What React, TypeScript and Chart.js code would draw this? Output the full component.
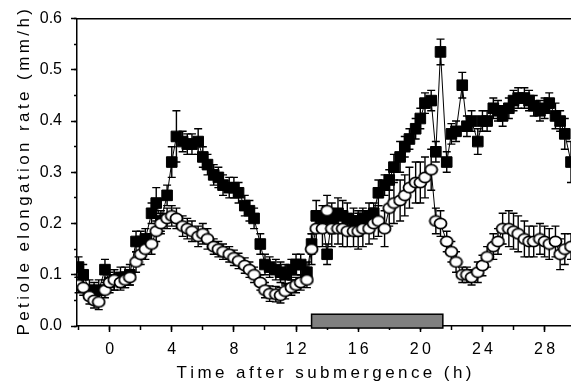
import React, { useEffect, useRef } from "react";
import { Chart, registerables } from "chart.js";

Chart.register(...registerables);

const hours = [
  -2.0, -1.7, -1.3, -1.0, -0.7, -0.3, 0.0, 0.3, 0.7, 1.0, 1.3, 1.7,
  2.0, 2.3, 2.7, 3.0, 3.3, 3.7, 4.0, 4.3, 4.7, 5.0, 5.3, 5.7,
  6.0, 6.3, 6.7, 7.0, 7.3, 7.7, 8.0, 8.3, 8.7, 9.0, 9.3, 9.7,
  10.0, 10.3, 10.7, 11.0, 11.3, 11.7, 12.0, 12.3, 12.7, 13.0, 13.3, 13.7,
  14.0, 14.3, 14.7, 15.0, 15.3, 15.7, 16.0, 16.3, 16.7, 17.0, 17.3, 17.7,
  18.0, 18.3, 18.7, 19.0, 19.3, 19.7, 20.0, 20.3, 20.7, 21.0, 21.3, 21.7,
  22.0, 22.3, 22.7, 23.0, 23.3, 23.7, 24.0, 24.3, 24.7, 25.0, 25.3, 25.7,
  26.0, 26.3, 26.7, 27.0, 27.3, 27.7, 28.0, 28.3, 28.7, 29.0, 29.3, 29.7,
];

const squareRate = [
  0.115, 0.10, 0.07, 0.065, 0.07, 0.11, 0.085, 0.09, 0.095, 0.095, 0.10, 0.165,
  0.165, 0.17, 0.22, 0.24, 0.205, 0.255, 0.32, 0.37, 0.36, 0.355, 0.355, 0.36,
  0.33, 0.315, 0.295, 0.29, 0.275, 0.27, 0.27, 0.26, 0.235, 0.225, 0.21, 0.16,
  0.12, 0.115, 0.11, 0.105, 0.10, 0.11, 0.12, 0.12, 0.105, 0.16, 0.215, 0.21,
  0.14, 0.21, 0.22, 0.215, 0.21, 0.205, 0.20, 0.21, 0.215, 0.22, 0.26, 0.275,
  0.285, 0.31, 0.33, 0.35, 0.365, 0.385, 0.405, 0.435, 0.44, 0.34, 0.535, 0.32,
  0.375, 0.38, 0.47, 0.39, 0.40, 0.36, 0.40, 0.40, 0.425, 0.42, 0.41, 0.425,
  0.44, 0.445, 0.445, 0.44, 0.43, 0.42, 0.425, 0.435, 0.41, 0.40, 0.375, 0.32,
];

const squareErr = [
  0.02, 0.02, 0.02, 0.02, 0.02, 0.02, 0.02, 0.02, 0.02, 0.02, 0.02, 0.02,
  0.02, 0.02, 0.02, 0.03, 0.02, 0.02, 0.03, 0.05, 0.02, 0.02, 0.02, 0.025,
  0.02, 0.02, 0.02, 0.02, 0.02, 0.02, 0.02, 0.02, 0.02, 0.02, 0.02, 0.02,
  0.02, 0.02, 0.02, 0.02, 0.02, 0.02, 0.02, 0.02, 0.02, 0.02, 0.03, 0.025,
  0.02, 0.03, 0.03, 0.03, 0.03, 0.025, 0.025, 0.02, 0.025, 0.02, 0.025, 0.02,
  0.02, 0.025, 0.03, 0.02, 0.02, 0.02, 0.02, 0.02, 0.02, 0.02, 0.025, 0.02,
  0.02, 0.02, 0.025, 0.02, 0.02, 0.025, 0.02, 0.02, 0.02, 0.02, 0.02, 0.02,
  0.02, 0.02, 0.02, 0.02, 0.02, 0.02, 0.02, 0.02, 0.025, 0.02, 0.03, 0.04,
];

const circleRate = [
  0.08, 0.075, 0.058, 0.05, 0.047, 0.07, 0.085, 0.09, 0.085, 0.09, 0.095, 0.125,
  0.14, 0.15, 0.16, 0.185, 0.20, 0.21, 0.215, 0.21, 0.195, 0.19, 0.185, 0.175,
  0.18, 0.17, 0.155, 0.15, 0.145, 0.14, 0.133, 0.127, 0.118, 0.11, 0.10, 0.085,
  0.07, 0.063, 0.062, 0.06, 0.068, 0.075, 0.08, 0.085, 0.09, 0.15, 0.19, 0.19,
  0.225, 0.19, 0.19, 0.19, 0.185, 0.185, 0.185, 0.19, 0.19, 0.20, 0.205, 0.19,
  0.23, 0.24, 0.245, 0.255, 0.27, 0.28, 0.28, 0.29, 0.305, 0.205, 0.20, 0.165,
  0.145, 0.125, 0.10, 0.10, 0.095, 0.105, 0.118, 0.135, 0.155, 0.165, 0.19, 0.19,
  0.185, 0.18, 0.17, 0.165, 0.165, 0.17, 0.165, 0.16, 0.165, 0.14, 0.15, 0.155,
];

const circleErr = [
  0.015, 0.015, 0.015, 0.015, 0.015, 0.015, 0.015, 0.02, 0.015, 0.015, 0.015, 0.02,
  0.02, 0.02, 0.02, 0.02, 0.02, 0.02, 0.02, 0.02, 0.02, 0.02, 0.02, 0.02,
  0.02, 0.02, 0.015, 0.015, 0.015, 0.015, 0.015, 0.015, 0.015, 0.015, 0.015, 0.015,
  0.015, 0.015, 0.015, 0.015, 0.015, 0.015, 0.015, 0.015, 0.015, 0.03, 0.035, 0.035,
  0.03, 0.035, 0.03, 0.035, 0.03, 0.03, 0.035, 0.035, 0.03, 0.03, 0.03, 0.035,
  0.035, 0.04, 0.04, 0.04, 0.04, 0.04, 0.04, 0.04, 0.04, 0.025, 0.025, 0.02,
  0.02, 0.02, 0.015, 0.015, 0.015, 0.02, 0.02, 0.02, 0.025, 0.025, 0.03, 0.035,
  0.035, 0.035, 0.035, 0.03, 0.03, 0.03, 0.03, 0.03, 0.03, 0.03, 0.03, 0.025,
];

// submergence period bar (hours) drawn at the base of the plot
const submergeStart = 13.0;
const submergeEnd = 21.45;
const submergeLow = -0.004;
const submergeHigh = 0.023;

const xMin = -2.1;
const xMax = 29.7;
const yTicksStep = 0.1;

const FONT = "'Liberation Sans', Arial, Helvetica, sans-serif";
const spaced = (s: string) => s.split("").join("\u2009");

const errorBarPlugin = {
  id: "errorBars",
  beforeDatasetDraw(chart: any, args: any) {
    const ds = chart.data.datasets[args.index];
    const errs: number[] | undefined = ds.errors;
    if (!errs) return;
    const yScale = chart.scales.y;
    const ctx = chart.ctx;
    ctx.save();
    ctx.strokeStyle = "#000";
    ctx.lineWidth = 1.4;
    args.meta.data.forEach((pt: any, i: number) => {
      const v = ds.data[i].y;
      const e = errs[i];
      const yt = yScale.getPixelForValue(v + e);
      const yb = yScale.getPixelForValue(v - e);
      const x = pt.x;
      ctx.beginPath();
      ctx.moveTo(x, yt);
      ctx.lineTo(x, yb);
      ctx.moveTo(x - 4, yt);
      ctx.lineTo(x + 4, yt);
      ctx.moveTo(x - 4, yb);
      ctx.lineTo(x + 4, yb);
      ctx.stroke();
    });
    ctx.restore();
  },
};

const bandPlugin = {
  id: "band",
  afterDatasetsDraw(chart: any) {
    const xs = chart.scales.x;
    const ys = chart.scales.y;
    const ctx = chart.ctx;
    const x1 = xs.getPixelForValue(submergeStart);
    const x2 = xs.getPixelForValue(submergeEnd);
    const y1 = ys.getPixelForValue(submergeHigh);
    const y2 = ys.getPixelForValue(submergeLow);
    ctx.save();
    ctx.fillStyle = "#808080";
    ctx.strokeStyle = "#000";
    ctx.lineWidth = 1.5;
    ctx.fillRect(x1, y1, x2 - x1, y2 - y1);
    ctx.strokeRect(x1, y1, x2 - x1, y2 - y1);
    ctx.restore();
  },
};

function makeEllipse(): HTMLCanvasElement {
  const c = document.createElement("canvas");
  c.width = 15;
  c.height = 13;
  const g = c.getContext("2d")!;
  g.beginPath();
  g.ellipse(7.5, 6.5, 6.0, 5.1, 0, 0, Math.PI * 2);
  g.fillStyle = "#fff";
  g.fill();
  g.lineWidth = 1.8;
  g.strokeStyle = "#000";
  g.stroke();
  return c;
}

export default function App() {
  const ref = useRef<HTMLCanvasElement | null>(null);

  useEffect(() => {
    if (!ref.current) return;
    Chart.defaults.font.family = FONT;
    Chart.defaults.color = "#000";
    const ellipse = makeEllipse();

    const chart = new Chart(ref.current, {
      type: "line",
      data: {
        datasets: [
          {
            label: "open",
            data: hours.map((h, i) => ({ x: h, y: circleRate[i] })),
            errors: circleErr,
            borderColor: "#000",
            borderWidth: 1,
            pointStyle: ellipse,
            pointRadius: 6,
            order: 0,
          } as any,
          {
            label: "filled",
            data: hours.map((h, i) => ({ x: h, y: squareRate[i] })),
            errors: squareErr,
            borderColor: "#000",
            borderWidth: 1,
            pointStyle: "rect",
            pointRadius: 7.5,
            pointBackgroundColor: "#000",
            pointBorderColor: "#000",
            pointBorderWidth: 1,
            order: 1,
          } as any,
        ],
      },
      options: {
        responsive: false,
        animation: false,
        events: [],
        layout: { padding: 0, autoPadding: false },
        plugins: { legend: { display: false }, tooltip: { enabled: false } },
        scales: {
          x: {
            type: "linear",
            position: "bottom",
            weight: 1,
            min: xMin,
            max: xMax,
            afterFit: (s: any) => { s.height = 60; },
            border: { display: true, color: "#000", width: 1.5 },
            grid: { drawOnChartArea: false, tickLength: 6, tickColor: "#000", tickWidth: 1.5 },
            ticks: {
              stepSize: 4,
              includeBounds: false,
              padding: 8,
              maxRotation: 0,
              font: { size: 16 },
              color: "#000",
              callback: (v: any) => spaced(String(v)),
            },
            title: {
              display: true,
              text: spaced("Time after submergence (h)"),
              font: { size: 17 },
              color: "#000",
              padding: { top: 0, bottom: 2 },
            },
          },
          xMinor: {
            type: "linear",
            position: "bottom",
            weight: 0,
            min: xMin,
            max: xMax,
            afterFit: (s: any) => { s.height = 0; },
            border: { display: false },
            grid: { drawOnChartArea: false, tickLength: 4, tickColor: "#000", tickWidth: 1.5 },
            ticks: { display: false, stepSize: 2, includeBounds: false },
          },
          xTop: {
            type: "linear",
            position: "top",
            min: xMin,
            max: xMax,
            afterFit: (s: any) => { s.height = 16; },
            border: { display: true, color: "#000", width: 1.5 },
            grid: { display: false },
            ticks: { display: false },
          },
          y: {
            type: "linear",
            position: "left",
            weight: 1,
            min: 0,
            max: 0.6,
            afterFit: (s: any) => { s.width = 77; },
            border: { display: true, color: "#000", width: 1.5 },
            grid: { drawOnChartArea: false, tickLength: 6, tickColor: "#000", tickWidth: 1.5 },
            ticks: {
              stepSize: yTicksStep,
              padding: 9,
              font: { size: 16 },
              color: "#000",
              callback: (v: any) => Number(v).toFixed(1),
            },
            title: {
              display: true,
              text: spaced("Petiole elongation rate (mm/h)"),
              font: { size: 17 },
              color: "#000",
              padding: { top: 14, bottom: 0 },
            },
          },
          yMinor: {
            type: "linear",
            position: "left",
            weight: 0,
            min: 0,
            max: 0.6,
            afterFit: (s: any) => { s.width = 0; },
            border: { display: false },
            grid: { drawOnChartArea: false, tickLength: 3, tickColor: "#000", tickWidth: 1.5 },
            ticks: { display: false, stepSize: 0.05 },
          },
        },
      } as any,
      plugins: [errorBarPlugin, bandPlugin],
    });
    return () => chart.destroy();
  }, []);

  return (
    <div style={{ position: "absolute", left: 0, top: 0, width: 571, height: 386, background: "#fff" }}>
      <canvas ref={ref} width={571} height={386} />
    </div>
  );
}
